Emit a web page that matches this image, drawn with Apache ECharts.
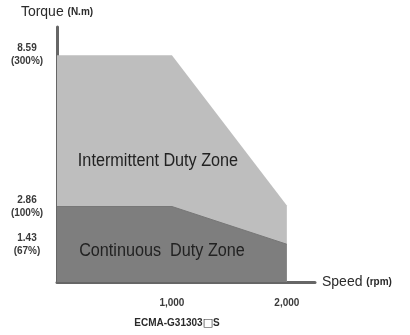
<!DOCTYPE html>
<html>
<head>
<meta charset="utf-8">
<script src="https://cdn.jsdelivr.net/npm/echarts@6/dist/echarts.min.js"></script>
<style>
  html, body { margin: 0; padding: 0; background: #fff; }
  #chart { width: 410px; height: 335px; }
</style>
</head>
<body>
<div id="chart"></div>
<script>
// Speed–torque envelope for the ECMA-G31303□S servo motor
const speedPoints = [0, 1000, 2000];            // rpm
const intermittentTorque = [8.59, 8.59, 2.9];   // N.m
const continuousTorque = [2.86, 2.86, 1.43];    // N.m
const torqueTicks = [8.59, 2.86, 1.43];
const torquePercent = ['300%', '100%', '67%'];
const speedTicks = [1000, 2000];
const speedTickLabels = ['1,000', '2,000'];

const FONT = '"Liberation Sans", "DejaVu Sans", Arial, sans-serif';
const chart = echarts.init(document.getElementById('chart'), null, { renderer: 'canvas' });

const pairs = (ys) => speedPoints.map((x, i) => [x, ys[i]]);

// zone caption, slightly condensed
const zoneText = (text, cx, cy) => ({
  type: 'text', z: 50, x: cx, y: cy, scaleX: 0.9,
  style: { text, x: 0, y: 0, align: 'center', verticalAlign: 'middle',
           font: '18px ' + FONT, fill: '#222222' }
});

chart.setOption({
  animation: false,
  backgroundColor: '#ffffff',
  grid: { left: 57, right: 95, top: 27, bottom: 53 },
  xAxis: {
    type: 'value',
    min: 0,
    max: 2245,
    name: 'Speed {s|(rpm)}',
    nameLocation: 'end',
    nameGap: 7,
    nameTextStyle: {
      fontFamily: FONT, fontSize: 14, color: '#2b2b2b', verticalAlign: 'middle',
      rich: { s: { fontFamily: FONT, fontSize: 10, color: '#2b2b2b', fontWeight: 'bold' } }
    },
    axisLine: { show: true, lineStyle: { color: '#666666', width: 3 } },
    axisTick: { show: false },
    splitLine: { show: false },
    axisLabel: {
      customValues: speedTicks,
      margin: 16,
      fontFamily: FONT, fontSize: 10, fontWeight: 'bold', color: '#3a3a3a',
      formatter: (v) => speedTickLabels[speedTicks.indexOf(v)] || ''
    }
  },
  yAxis: {
    type: 'value',
    min: 0,
    max: 9.66,
    name: 'Torque {s|(N.m)}',
    nameLocation: 'end',
    nameGap: 8,
    nameTextStyle: {
      fontFamily: FONT, fontSize: 14, color: '#2b2b2b',
      rich: { s: { fontFamily: FONT, fontSize: 10, color: '#2b2b2b', fontWeight: 'bold' } }
    },
    axisLine: { show: true, lineStyle: { color: '#666666', width: 3 } },
    axisTick: { show: false },
    splitLine: { show: false },
    axisLabel: {
      customValues: torqueTicks,
      hideOverlap: false,
      margin: 30,
      align: 'center',
      lineHeight: 13,
      fontFamily: FONT, fontSize: 10, fontWeight: 'bold', color: '#3a3a3a',
      formatter: (v) => {
        const i = torqueTicks.indexOf(v);
        return i < 0 ? '' : v.toFixed(2) + '\n(' + torquePercent[i] + ')';
      }
    }
  },
  series: [
    {
      name: 'Intermittent Duty Zone',
      type: 'line',
      data: pairs(intermittentTorque),
      showSymbol: false,
      lineStyle: { width: 0 },
      areaStyle: { color: '#bebebe', opacity: 1 },
      z: 1
    },
    {
      name: 'Continuous Duty Zone',
      type: 'line',
      data: pairs(continuousTorque),
      showSymbol: false,
      lineStyle: { width: 1, color: '#777777' },
      areaStyle: { color: '#7e7e7e', opacity: 1 },
      z: 2
    }
  ],
  graphic: [
    zoneText('Intermittent Duty Zone', 158, 161),
    zoneText('Continuous  Duty Zone', 162, 251),
    {
      type: 'text', z: 50,
      style: {
        text: '{a|ECMA-G31303}{b|□}{a|S}', x: 177, y: 323, align: 'center', verticalAlign: 'middle',
        rich: {
          a: { fontFamily: 'Liberation Sans', fontWeight: 'bold', fontSize: 10, fill: '#2a2a2a' },
          b: { fontFamily: 'DejaVu Sans', fontWeight: 'bold', fontSize: 11, fill: '#2a2a2a' }
        }
      }
    }
  ]
});
</script>
</body>
</html>
